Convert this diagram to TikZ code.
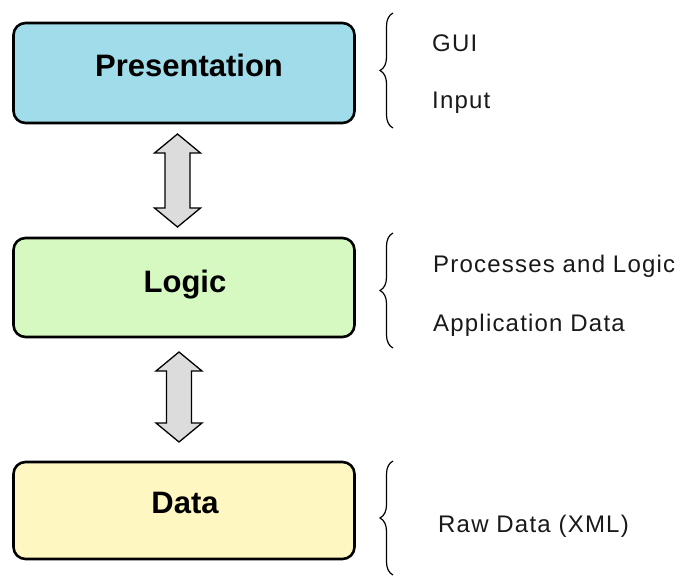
\documentclass[tikz,border=0pt]{standalone}
\usepackage{fontspec}
\setmainfont{Liberation Sans}
\newfontfamily\sidefont[LetterSpace=5]{Liberation Sans}
\usetikzlibrary{calc,decorations.pathreplacing}

\definecolor{presfill}{HTML}{A0DCEA}
\definecolor{logicfill}{HTML}{D6F8C1}
\definecolor{datafill}{HTML}{FFF7C1}
\definecolor{arrowfill}{HTML}{DCDCDC}

\tikzset{
  layer/.style={draw=black, line width=2.6pt, rounded corners=12pt,
    minimum width=341pt, inner sep=0pt},
  layertext/.style={anchor=base, inner sep=0pt,
    font=\fontsize{31}{36}\selectfont\bfseries},
  sidetext/.style={anchor=base west, inner sep=0pt,
    font=\fontsize{24}{28}\selectfont\sidefont, text=black!90},
  blk/.style={draw=black, line width=1.3pt, fill=arrowfill, line join=miter},
  curly/.style={draw=black, line width=1.2pt,
    decorate, decoration={brace, amplitude=13pt}},
}

% draws a vertical two-headed block arrow between two tip coordinates
\newcommand\twoheaded[2]{%
  \draw[blk] (#1) -- ($(#1)+(23,19)$) -- ($(#1)+(12.5,19)$)
    -- ($(#2)+(12.5,-19)$) -- ($(#2)+(23,-19)$) -- (#2)
    -- ($(#2)+(-23,-19)$) -- ($(#2)+(-12.5,-19)$)
    -- ($(#1)+(-12.5,19)$) -- ($(#1)+(-23,19)$) -- cycle;}

\begin{document}
\begin{tikzpicture}[x=1pt, y=-1pt]
  \useasboundingbox (0,0) rectangle (682,577);

  % the three layers
  \node[layer, fill=presfill,  minimum height=100pt] (pres)  at (184,73) {};
  \node[layer, fill=logicfill, minimum height=99pt]  (logic) at (184,287.5) {};
  \node[layer, fill=datafill,  minimum height=97pt]  (data)  at (184,510.5) {};

  \node[layertext] (prest)  at (189,77)  {Presentation};
  \node[layertext] (logict) at (185,292) {Logic};
  \node[layertext] (datat)  at (185,513) {Data};

  % arrows between the layers
  \coordinate (a1t) at (177.5,134);
  \coordinate (a1b) at (177.5,227);
  \coordinate (a2t) at (179,352);
  \coordinate (a2b) at (179,442);
  \twoheaded{a1t}{a1b}
  \twoheaded{a2t}{a2b}

  % braces with the contents of each layer
  \coordinate (b1t) at (393,13);  \coordinate (b1b) at (393,128);
  \coordinate (b2t) at (393,233); \coordinate (b2b) at (393,348);
  \coordinate (b3t) at (393,461); \coordinate (b3b) at (393,575);
  \draw[curly] (b1b) -- (b1t);
  \draw[curly] (b2b) -- (b2t);
  \draw[curly] (b3b) -- (b3t);

  \node[sidetext] (gui)   at (432,52)  {GUI};
  \node[sidetext] (input) at (432,109) {Input};
  \node[sidetext] (proc)  at (433,272) {Processes and Logic};
  \node[sidetext] (app)   at (433,331) {Application Data};
  \node[sidetext] (raw)   at (438,532) {Raw Data (XML)};
\end{tikzpicture}
\end{document}
